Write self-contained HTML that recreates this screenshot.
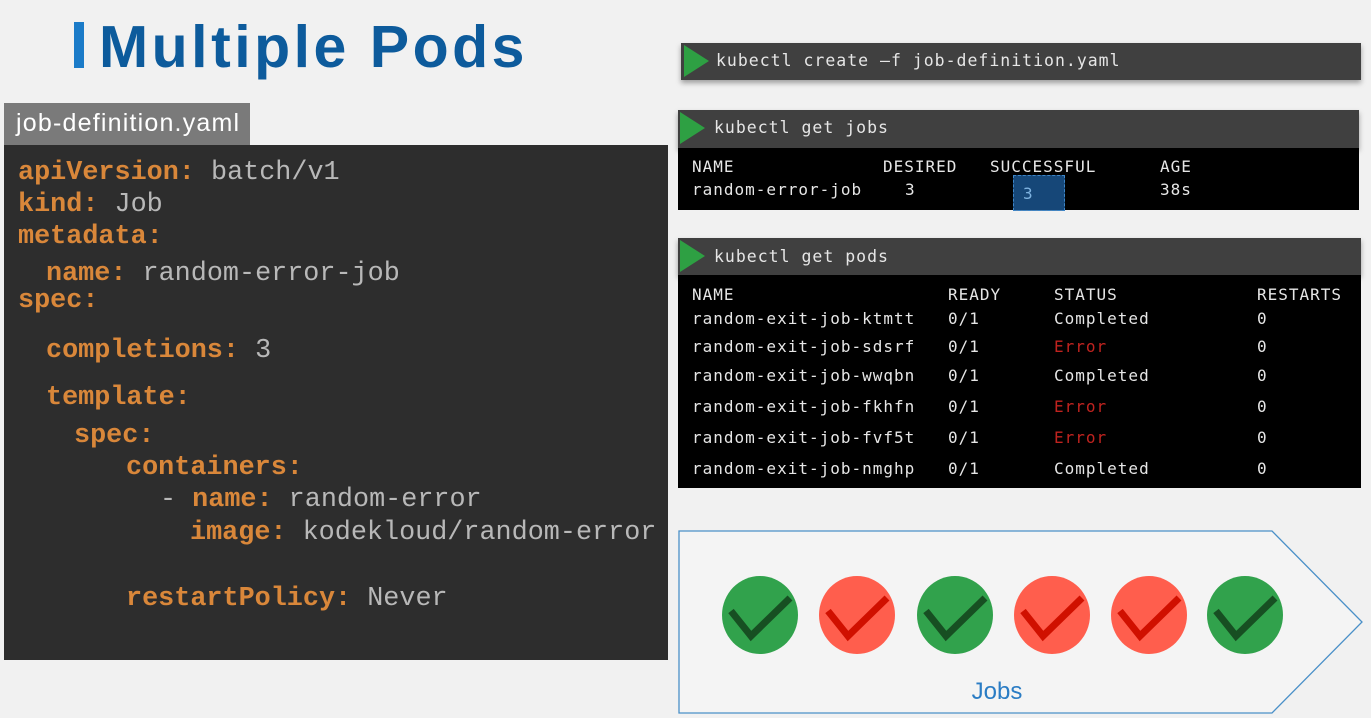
<!DOCTYPE html>
<html><head><style>
body{margin:0;width:1371px;height:718px;overflow:hidden;background:#f1f1f1;position:relative;font-family:"Liberation Sans",sans-serif}
.a{position:absolute;white-space:pre}
.k{font-family:"Liberation Mono",monospace;font-weight:bold;color:#d9873a;font-size:26.8px}
.v{font-family:"Liberation Mono",monospace;color:#b8b8b8;font-size:26.8px;font-weight:normal}
.t{font-family:"DejaVu Sans Mono","Liberation Mono",monospace;font-size:16px;letter-spacing:1px;color:#e6e6e6}
.hd{position:absolute;background:#404040;box-shadow:0 3px 5px rgba(0,0,0,.35)}
.tri{position:absolute;width:0;height:0;border-top:16px solid transparent;border-bottom:16px solid transparent;border-left:25px solid #2ea043}
.r{color:#c0231f}
</style></head><body>
<div class="a" style="left:74px;top:22px;width:10px;height:46px;background:#1b7bc8"></div>
<div class="a" style="left:99px;top:13px;font-size:59px;font-weight:bold;color:#0d5b9c;letter-spacing:3.5px">Multiple Pods</div>

<div class="a" style="left:4px;top:103px;width:246px;height:42px;background:#7a7a7a"></div>
<div class="a" style="left:16px;top:109px;font-size:25px;color:#fff;letter-spacing:1.2px">job-definition.yaml</div>
<div class="a" style="left:4px;top:145px;width:664px;height:515px;background:#2d2d2d"></div>
<div class="a k" style="left:18px;top:158px">apiVersion: <span class="v">batch/v1</span></div>
<div class="a k" style="left:18px;top:190px">kind: <span class="v">Job</span></div>
<div class="a k" style="left:18px;top:222px">metadata:</div>
<div class="a k" style="left:46px;top:259px">name: <span class="v">random-error-job</span></div>
<div class="a k" style="left:18px;top:286px">spec:</div>
<div class="a k" style="left:46px;top:336px">completions: <span class="v">3</span></div>
<div class="a k" style="left:46px;top:383px">template:</div>
<div class="a k" style="left:74px;top:421px">spec:</div>
<div class="a k" style="left:126px;top:453px">containers:</div>
<div class="a k" style="left:160px;top:485px"><span class="v">-</span> name: <span class="v">random-error</span></div>
<div class="a k" style="left:190px;top:518px">image: <span class="v">kodekloud/random-error</span></div>
<div class="a k" style="left:126px;top:584px">restartPolicy: <span class="v">Never</span></div>

<div class="hd" style="left:681px;top:43px;width:680px;height:37px"></div>
<div class="tri" style="left:684px;top:45px"></div>
<div class="a t" style="left:716px;top:51px;font-size:16.5px">kubectl create –f job-definition.yaml</div>

<div class="hd" style="left:678px;top:110px;width:681px;height:38px"></div>
<div class="tri" style="left:680px;top:112px"></div>
<div class="a t" style="left:714px;top:118px;font-size:16.5px">kubectl get jobs</div>
<div class="a" style="left:678px;top:148px;width:681px;height:62px;background:#000"></div>
<div class="a t" style="left:692px;top:157px">NAME</div><div class="a t" style="left:883px;top:157px">DESIRED</div><div class="a t" style="left:990px;top:157px">SUCCESSFUL</div><div class="a t" style="left:1160px;top:157px">AGE</div>
<div class="a t" style="left:692px;top:180px">random-error-job</div><div class="a t" style="left:905px;top:180px">3</div>
<div class="a" style="left:1013px;top:175px;width:52px;height:36px;background:rgba(30,95,160,.75);box-sizing:border-box;border:1px dashed #3d86c8"></div>
<div class="a t" style="left:1023px;top:184px;color:#7fb3e0">3</div>
<div class="a t" style="left:1160px;top:180px">38s</div>

<div class="hd" style="left:678px;top:238px;width:683px;height:37px"></div>
<div class="tri" style="left:680px;top:240px"></div>
<div class="a t" style="left:714px;top:247px;font-size:16.5px">kubectl get pods</div>
<div class="a" style="left:678px;top:275px;width:683px;height:213px;background:#000"></div>
<div class="a t" style="left:692px;top:285px">NAME</div><div class="a t" style="left:948px;top:285px">READY</div><div class="a t" style="left:1054px;top:285px">STATUS</div><div class="a t" style="left:1257px;top:285px">RESTARTS</div>
<div class="a t" style="left:692px;top:309px">random-exit-job-ktmtt</div><div class="a t" style="left:948px;top:309px">0/1</div><div class="a t" style="left:1054px;top:309px">Completed</div><div class="a t" style="left:1257px;top:309px">0</div>
<div class="a t" style="left:692px;top:337px">random-exit-job-sdsrf</div><div class="a t" style="left:948px;top:337px">0/1</div><div class="a t r" style="left:1054px;top:337px">Error</div><div class="a t" style="left:1257px;top:337px">0</div>
<div class="a t" style="left:692px;top:366px">random-exit-job-wwqbn</div><div class="a t" style="left:948px;top:366px">0/1</div><div class="a t" style="left:1054px;top:366px">Completed</div><div class="a t" style="left:1257px;top:366px">0</div>
<div class="a t" style="left:692px;top:397px">random-exit-job-fkhfn</div><div class="a t" style="left:948px;top:397px">0/1</div><div class="a t r" style="left:1054px;top:397px">Error</div><div class="a t" style="left:1257px;top:397px">0</div>
<div class="a t" style="left:692px;top:428px">random-exit-job-fvf5t</div><div class="a t" style="left:948px;top:428px">0/1</div><div class="a t r" style="left:1054px;top:428px">Error</div><div class="a t" style="left:1257px;top:428px">0</div>
<div class="a t" style="left:692px;top:459px">random-exit-job-nmghp</div><div class="a t" style="left:948px;top:459px">0/1</div><div class="a t" style="left:1054px;top:459px">Completed</div><div class="a t" style="left:1257px;top:459px">0</div>

<svg class="a" style="left:0;top:0" width="1371" height="718">
<polygon points="679,531 1272,531 1362,622 1272,713 679,713" fill="#f4f4f4" stroke="#4a90c8" stroke-width="1.3"/>
<defs>
<polyline id="ck" points="-29,-4 -9,21 30,-17" fill="none" stroke-width="7"/>
</defs>
<g>
<g transform="translate(760,615)"><ellipse rx="38" ry="39" fill="#31a24c"/><use href="#ck" stroke="#174f22"/></g>
<g transform="translate(857,615)"><ellipse rx="38" ry="39" fill="#ff5e4d"/><use href="#ck" stroke="#d01000"/></g>
<g transform="translate(955,615)"><ellipse rx="38" ry="39" fill="#31a24c"/><use href="#ck" stroke="#174f22"/></g>
<g transform="translate(1052,615)"><ellipse rx="38" ry="39" fill="#ff5e4d"/><use href="#ck" stroke="#d01000"/></g>
<g transform="translate(1149,615)"><ellipse rx="38" ry="39" fill="#ff5e4d"/><use href="#ck" stroke="#d01000"/></g>
<g transform="translate(1245,615)"><ellipse rx="38" ry="39" fill="#31a24c"/><use href="#ck" stroke="#174f22"/></g>
</g>
<text x="997" y="699" font-family="Liberation Sans,sans-serif" font-size="24" fill="#2a7cc4" text-anchor="middle">Jobs</text>
</svg>
</body></html>
